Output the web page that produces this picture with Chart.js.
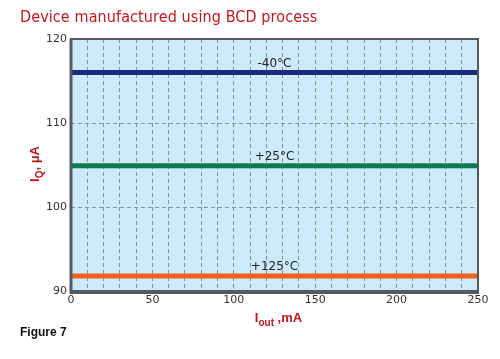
<!DOCTYPE html>
<html><head><meta charset="utf-8">
<script src="https://cdn.jsdelivr.net/npm/chart.js@4/dist/chart.umd.min.js"></script>
<style>
html,body{margin:0;padding:0;background:#fff;}
#wrap{position:relative;width:500px;height:359px;}
#title{position:absolute;left:20px;top:7px;font-family:"DejaVu Sans Condensed","DejaVu Sans",sans-serif;font-size:16px;color:#c4161c;letter-spacing:0.1px;}
#fig{position:absolute;left:20px;top:325px;font-family:"Liberation Sans",Arial,sans-serif;font-weight:bold;font-size:12px;color:#111;}
</style></head><body>
<div id="wrap">
<div id="title">Device manufactured using BCD process</div>
<div id="fig">Figure 7</div>
<canvas id="c" width="500" height="359"></canvas>
</div>
<script>
const iout = [0, 50, 100, 150, 200, 250];
const iqMinus40 = [116, 116, 116, 116, 116, 116];
const iq25 = [104.9, 104.9, 104.9, 104.9, 104.9, 104.9];
const iq125 = [91.8, 91.8, 91.8, 91.8, 91.8, 91.8];
const seriesNames = ["-40\u00B0C", "+25\u00B0C", "+125\u00B0C"];
const xTickLabels = ["0", "50", "100", "150", "200", "250"];
const yTickLabels = ["90", "100", "110", "120"];

const colors = ["#1e2a80", "#0f7a4c", "#f0601e"];
function pts(ys){ return iout.map((x,i)=>({x:x,y:ys[i]})); }

const framePlugin = {
  id:'frame',
  beforeDraw(chart){
    const {ctx, chartArea:a} = chart;
    ctx.save();
    ctx.fillStyle = '#cdeafa';
    ctx.fillRect(a.left, a.top, a.right-a.left, a.bottom-a.top);
    ctx.restore();
  },
  afterDatasetsDraw(chart){
    const {ctx, chartArea:a, scales} = chart;
    ctx.save();
    ctx.strokeStyle = '#555a5e';
    ctx.lineWidth = 2;
    ctx.strokeRect(a.left, a.top, a.right-a.left, a.bottom-a.top);
    ctx.lineWidth = 3;
    ctx.beginPath();
    ctx.moveTo(a.left, a.top); ctx.lineTo(a.left, a.bottom+1.5); ctx.lineTo(a.right+1, a.bottom+1.5);
    ctx.stroke();
    // series labels
    ctx.fillStyle = '#222';
    ctx.font = '12px "DejaVu Sans", sans-serif';
    ctx.textAlign = 'center';
    ctx.textBaseline = 'bottom';
    const xm = scales.x.getPixelForValue((iout[0]+iout[iout.length-1])/2);
    [iqMinus40, iq25, iq125].forEach((ys,i)=>{
      const y = scales.y.getPixelForValue(ys[0]) - 3;
      ctx.fillText(seriesNames[i], xm, y);
    });
    // axis titles with subscripts
    ctx.fillStyle = '#c4161c';
    ctx.textBaseline = 'alphabetic';
    ctx.textAlign = 'left';
    const cx = (a.left+a.right)/2 + 4;
    const parts = [['I',13,0],['out',10,4],[' ,mA',13,0]];
    let w = 0;
    parts.forEach(p=>{ ctx.font='bold '+p[1]+'px "Liberation Sans", Arial, sans-serif'; w+=ctx.measureText(p[0]).width; });
    let x = cx - w/2; const by = 322;
    parts.forEach(p=>{ ctx.font='bold '+p[1]+'px "Liberation Sans", Arial, sans-serif'; ctx.fillText(p[0], x, by+p[2]); x+=ctx.measureText(p[0]).width; });
    ctx.translate(39, (a.top+a.bottom)/2 - 1);
    ctx.rotate(-Math.PI/2);
    const yparts = [['I',13,0],['Q',10,4],[', \u03BCA',13,0]];
    w = 0;
    yparts.forEach(p=>{ ctx.font='bold '+p[1]+'px "Liberation Sans", Arial, sans-serif'; w+=ctx.measureText(p[0]).width; });
    x = -w/2;
    yparts.forEach(p=>{ ctx.font='bold '+p[1]+'px "Liberation Sans", Arial, sans-serif'; ctx.fillText(p[0], x, p[2]); x+=ctx.measureText(p[0]).width; });
    ctx.restore();
  }
};

new Chart(document.getElementById('c'), {
  type:'line',
  data:{ datasets:[
    {label:seriesNames[0], data:pts(iqMinus40), borderColor:colors[0], borderWidth:5, pointRadius:0},
    {label:seriesNames[1], data:pts(iq25), borderColor:colors[1], borderWidth:5, pointRadius:0},
    {label:seriesNames[2], data:pts(iq125), borderColor:colors[2], borderWidth:5, pointRadius:0}
  ]},
  options:{
    responsive:false, animation:false,
    layout:{padding:{left:0,right:22,top:39,bottom:0}},
    plugins:{legend:{display:false}, tooltip:{enabled:false}},
    scales:{
      x:{type:'linear', min:0, max:250,
        afterFit(s){ s.height = 68; },
        afterBuildTicks(s){ const t=[]; for(let v=0; v<=250; v+=10) t.push({value:v}); s.ticks=t; },
        ticks:{autoSkip:false, maxRotation:0, padding:3, color:'#333', font:{family:'"DejaVu Sans", sans-serif', size:11},
          callback(v){ const i = iout.indexOf(v); return i>=0 ? xTickLabels[i] : ''; }},
        grid:{color:'#8a8f94', lineWidth:1, drawTicks:false},
        border:{display:false, dash:[4,3]}
      },
      y:{type:'linear', min:90, max:120,
        afterFit(s){ s.width = 71; },
        afterBuildTicks(s){ s.ticks = yTickLabels.map(v=>({value:Number(v)})); },
        ticks:{padding:4, color:'#333', font:{family:'"DejaVu Sans", sans-serif', size:11},
          callback(v){ return String(v); }},
        grid:{color:'#8a8f94', lineWidth:1, drawTicks:false},
        border:{display:false, dash:[4,3]}
      }
    }
  },
  plugins:[framePlugin]
});
</script>
</body></html>
